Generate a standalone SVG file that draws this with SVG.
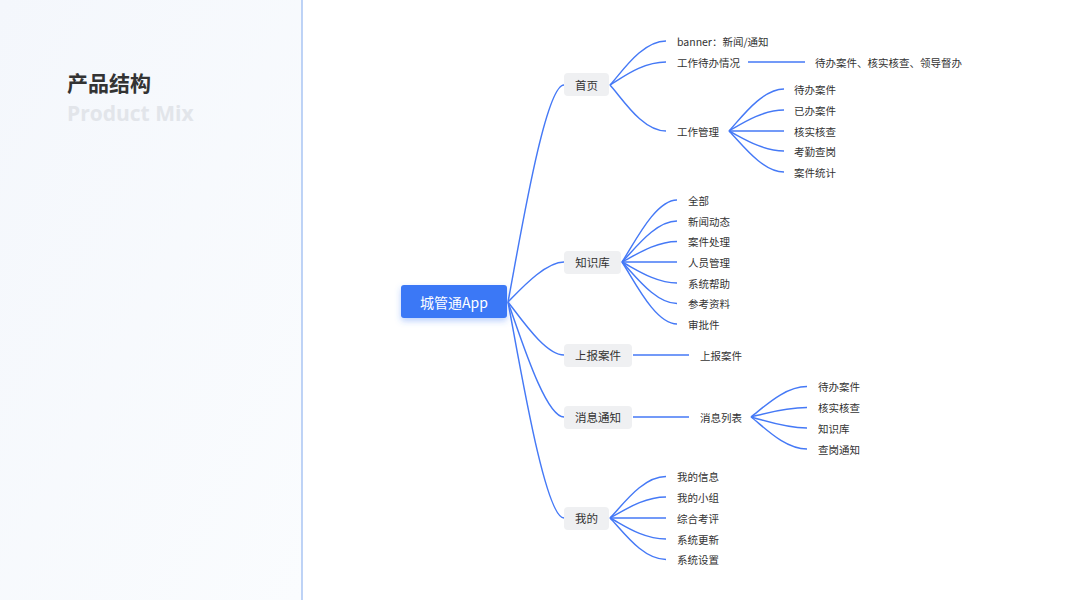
<svg xmlns="http://www.w3.org/2000/svg" width="1067" height="600" viewBox="0 0 1067 600">
<defs>
<linearGradient id="panel" x1="0" y1="0" x2="1" y2="1">
<stop offset="0" stop-color="#f4f7fc"/>
<stop offset="1" stop-color="#fafcfe"/>
</linearGradient>
<filter id="shadow" x="-30%" y="-50%" width="160%" height="220%">
<feDropShadow dx="0" dy="3" stdDeviation="3" flood-color="#3b78f6" flood-opacity="0.35"/>
</filter>
<style>
text{font-family:"Noto Sans CJK SC","Noto Sans",sans-serif;dominant-baseline:central;}
.leaf{font-size:10.5px;fill:#333;}
.br{font-size:11.5px;fill:#333;text-anchor:middle;}
.brbox{fill:#eff0f2;}
.c{fill:none;stroke:#4579f6;stroke-width:1.45;}
</style>
</defs>
<rect x="0" y="0" width="1067" height="600" fill="#ffffff"/>
<rect x="0" y="0" width="302" height="600" fill="url(#panel)"/>
<line x1="302" y1="0" x2="302" y2="600" stroke="#a9c5f3" stroke-width="1.5"/>
<g id="title">
<text x="67" y="82" style="font-size:21px;font-weight:bold;fill:#333;">产品结构</text>
<text x="67" y="113" style="font-family:'Open Sans','Noto Sans',sans-serif;font-size:21px;font-weight:bold;fill:#e2e5ea;">Product Mix</text>
</g>
<g id="connectors">
<path class="c" d="M508,302 C520,239 545,85 564,85"/>
<path class="c" d="M508,302 C520,290 545,262 564,262"/>
<path class="c" d="M508,302 C520,317 545,355 564,355"/>
<path class="c" d="M508,302 C520,335 545,417 564,417"/>
<path class="c" d="M508,302 C520,365 545,518 564,518"/>
<path class="c" d="M610,85 C622,72 642,41 666,41"/>
<path class="c" d="M610,85 C622,78 642,62 666,62"/>
<path class="c" d="M610,85 C622,98 642,131 666,131"/>
<line class="c" x1="748" y1="62" x2="805" y2="62"/>
<path class="c" d="M729,131 C741,118 762,89 784,89"/>
<path class="c" d="M729,131 C741,124 762,110 784,110"/>
<path class="c" d="M729,131 L784,131"/>
<path class="c" d="M729,131 C741,137 762,151 784,151"/>
<path class="c" d="M729,131 C741,143 762,172 784,172"/>
<path class="c" d="M622,262 C634,244 655,200 677,200"/>
<path class="c" d="M622,262 C634,250 655,221 677,221"/>
<path class="c" d="M622,262 C634,256 655,241.5 677,241.5"/>
<path class="c" d="M622,262 L677,262"/>
<path class="c" d="M622,262 C634,268 655,283 677,283"/>
<path class="c" d="M622,262 C634,274 655,303.5 677,303.5"/>
<path class="c" d="M622,262 C634,280 655,324 677,324"/>
<line class="c" x1="633" y1="355" x2="689" y2="355"/>
<line class="c" x1="633" y1="417" x2="689" y2="417"/>
<path class="c" d="M751,417 C763,408 784,386.5 807,386.5"/>
<path class="c" d="M751,417 C763,414 784,407.5 807,407.5"/>
<path class="c" d="M751,417 C763,420 784,428 807,428"/>
<path class="c" d="M751,417 C763,426 784,449 807,449"/>
<path class="c" d="M610,518 C622,506 642,476.5 666,476.5"/>
<path class="c" d="M610,518 C622,512 642,497 666,497"/>
<path class="c" d="M610,518 L666,518"/>
<path class="c" d="M610,518 C622,524 642,539 666,539"/>
<path class="c" d="M610,518 C622,530 642,559.5 666,559.5"/>
</g>
<g id="root">
<rect x="401" y="285" width="106" height="33" rx="3" fill="#3b78f6" filter="url(#shadow)"/>
<text x="454" y="301.5" style="font-size:14px;fill:#fff;text-anchor:middle;">城管通App</text>
</g>
<g id="n-home">
<rect class="brbox" x="564" y="73" width="45" height="23" rx="4"/>
<text class="br" x="586.5" y="84.5">首页</text>
</g>
<g id="n-home-1"><text class="leaf" x="677" y="41">banner：新闻/通知</text></g>
<g id="n-home-2"><text class="leaf" x="677" y="62">工作待办情况</text></g>
<g id="n-home-2a"><text class="leaf" x="815" y="62">待办案件、核实核查、领导督办</text></g>
<g id="n-home-3"><text class="leaf" x="677" y="131">工作管理</text></g>
<g id="n-wm-1"><text class="leaf" x="794" y="89">待办案件</text></g>
<g id="n-wm-2"><text class="leaf" x="794" y="110">已办案件</text></g>
<g id="n-wm-3"><text class="leaf" x="794" y="131">核实核查</text></g>
<g id="n-wm-4"><text class="leaf" x="794" y="151">考勤查岗</text></g>
<g id="n-wm-5"><text class="leaf" x="794" y="172">案件统计</text></g>
<g id="n-kb">
<rect class="brbox" x="564" y="251" width="57" height="23" rx="4"/>
<text class="br" x="592.5" y="262">知识库</text>
</g>
<g id="n-kb-1"><text class="leaf" x="688" y="200">全部</text></g>
<g id="n-kb-2"><text class="leaf" x="688" y="221">新闻动态</text></g>
<g id="n-kb-3"><text class="leaf" x="688" y="241.5">案件处理</text></g>
<g id="n-kb-4"><text class="leaf" x="688" y="262">人员管理</text></g>
<g id="n-kb-5"><text class="leaf" x="688" y="283">系统帮助</text></g>
<g id="n-kb-6"><text class="leaf" x="688" y="303.5">参考资料</text></g>
<g id="n-kb-7"><text class="leaf" x="688" y="324">审批件</text></g>
<g id="n-report">
<rect class="brbox" x="564" y="344" width="68" height="23" rx="4"/>
<text class="br" x="598" y="355">上报案件</text>
</g>
<g id="n-report-1"><text class="leaf" x="700" y="355">上报案件</text></g>
<g id="n-msg">
<rect class="brbox" x="564" y="406" width="68" height="23" rx="4"/>
<text class="br" x="598" y="417">消息通知</text>
</g>
<g id="n-msg-1"><text class="leaf" x="700" y="417">消息列表</text></g>
<g id="n-ml-1"><text class="leaf" x="818" y="386.5">待办案件</text></g>
<g id="n-ml-2"><text class="leaf" x="818" y="407.5">核实核查</text></g>
<g id="n-ml-3"><text class="leaf" x="818" y="428">知识库</text></g>
<g id="n-ml-4"><text class="leaf" x="818" y="449">查岗通知</text></g>
<g id="n-me">
<rect class="brbox" x="564" y="507" width="45" height="23" rx="4"/>
<text class="br" x="586.5" y="518">我的</text>
</g>
<g id="n-me-1"><text class="leaf" x="677" y="476.5">我的信息</text></g>
<g id="n-me-2"><text class="leaf" x="677" y="497">我的小组</text></g>
<g id="n-me-3"><text class="leaf" x="677" y="518">综合考评</text></g>
<g id="n-me-4"><text class="leaf" x="677" y="539">系统更新</text></g>
<g id="n-me-5"><text class="leaf" x="677" y="559.5">系统设置</text></g>
</svg>
